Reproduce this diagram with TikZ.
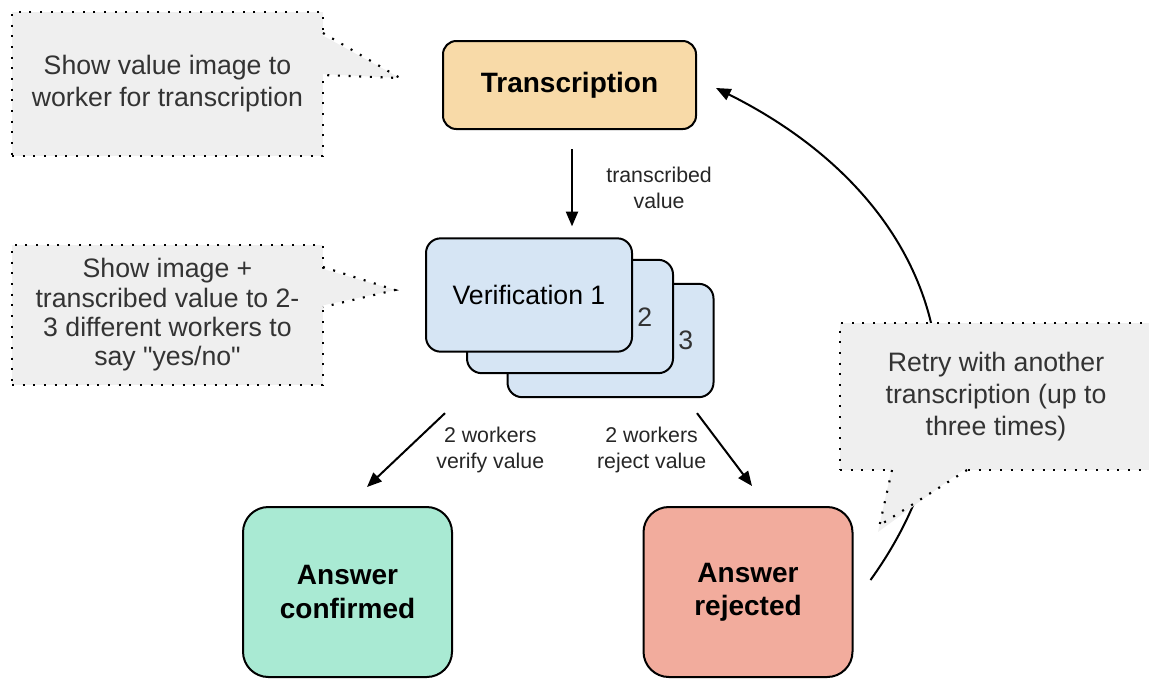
\documentclass[tikz,border=0pt]{standalone}
\usepackage{fontspec}
\setmainfont{Liberation Sans}
\newfontfamily\rawfont[Ligatures=TeXOff]{Liberation Sans}
\usepackage{tikz}
\usetikzlibrary{positioning,arrows.meta}
\definecolor{transfill}{HTML}{F8DAA8}
\definecolor{verfill}{HTML}{D6E5F4}
\definecolor{okfill}{HTML}{A9EAD3}
\definecolor{nofill}{HTML}{F2AC9D}
\definecolor{notefill}{HTML}{EFEFEF}
\newcommand{\boxfont}{\fontsize{21}{25}\selectfont\bfseries}
\newcommand{\notefont}{\fontsize{20}{24}\selectfont}
\newcommand{\edgefont}{\fontsize{16}{19.5}\selectfont}
\tikzstyle{block} = [rectangle, draw, line width=1.5pt, align=center, inner sep=0pt]
\tikzstyle{verbox} = [block, fill=verfill, rounded corners=11pt, minimum width=154.5pt, minimum height=85pt]
\tikzstyle{endbox} = [block, rounded corners=19pt, minimum width=156.75pt, minimum height=127.5pt, font=\boxfont]
\tikzstyle{note} = [rectangle, fill=notefill, draw, line width=1.6pt, dash pattern=on 1.5pt off 6.5pt, align=center, font=\notefont, text=black!80, inner sep=0pt]
\tikzstyle{dots} = [line width=1.6pt, dash pattern=on 1.5pt off 6.5pt]
\tikzstyle{arrowline} = [draw, line width=1.5pt, -{Triangle[length=11pt,width=9pt]}]
\tikzstyle{edgelabel} = [align=center, font=\edgefont, text=black!85, inner sep=0pt]

\begin{document}
\begin{tikzpicture}[x=0.75pt, y=-0.75pt]
  \clip (0,0) rectangle (1149,679);
  % Place nodes
  \node [block, fill=transfill, rounded corners=10pt, minimum width=189.75pt, minimum height=66pt, font=\boxfont] (trans) at (569.5,85) {Transcription};
  \node [verbox] (ver3) at (610.5,340.5) {};
  \node [verbox] (ver2) at (570,316.5) {};
  \node [verbox, font=\notefont] (ver1) at (529,295) {Verification 1};
  \node [right=3pt of ver1.east, yshift=-17pt, font=\notefont, text=black!80, inner sep=0pt] (num2) {2};
  \node [right=3pt of ver2.east, yshift=-18pt, font=\notefont, text=black!80, inner sep=0pt] (num3) {3};
  \node [endbox, fill=okfill] (conf) at (347.5,592) {Answer\\confirmed};
  \node [endbox, fill=nofill] (rej) at (748,592) {Answer\\rejected};
  % Draw edges
  \path [arrowline] ([shift={(2.5,19)}]trans.south) -- ([shift={(43,-11)}]ver1.north)
    node [midway, right=25pt, edgelabel] {transcribed\\value};
  \path [arrowline] ([shift={(-165.5,15)}]ver3.south) -- ([shift={(19.5,-19)}]conf.north)
    node [midway, right=22pt, edgelabel] {2 workers\\verify value};
  \path [arrowline] ([shift={(86.5,15)}]ver3.south) -- ([shift={(4,-20)}]rej.north)
    node [midway, left=13pt, edgelabel] {2 workers\\reject value};
  \path [arrowline] ([shift={(17,-12)}]rej.east) .. controls (1000,400) and (940,200) .. ([shift={(19,3)}]trans.east);
  % Notes
  \node [note, minimum width=233.25pt, minimum height=108pt] (note1) at (167.5,84) {Show value image to\\worker for transcription};
  \fill [notefill] (320,34) -- (400,78) -- (320,74) -- cycle;
  \draw [dots] (323,33) -- (400,78) -- (323,75);
  \node [note, minimum width=233.25pt, minimum height=105pt, font=\fontsize{20}{22}\selectfont] (note2) at (167.5,315) {Show image +\\transcribed value to 2-\\3 different workers to\\say {\rawfont"yes/no"}};
  \fill [notefill] (320,268) -- (395,290) -- (320,306) -- cycle;
  \draw [dots] (323,267) -- (395,290) -- (323,307);
  \node [note, minimum width=234pt, minimum height=110.25pt] (note3) at (996,396.5) {Retry with another\\transcription (up to\\three times)};
  \fill [notefill] (892,467) -- (878,532) -- (967,467) -- cycle;
  \draw [dots] (892,470) -- (878,532);
  \draw [dots] (967,470) -- (880,525);
\end{tikzpicture}
\end{document}
